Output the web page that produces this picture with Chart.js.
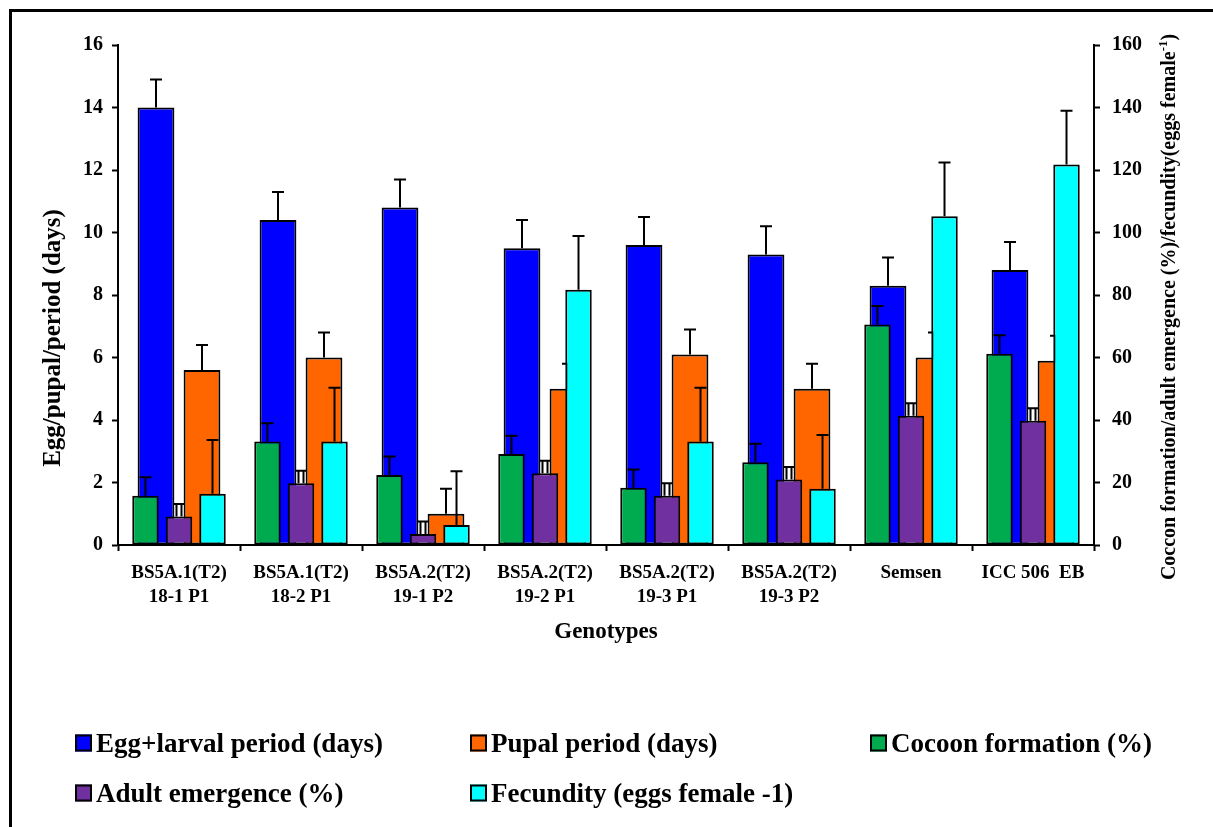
<!DOCTYPE html>
<html>
<head>
<meta charset="utf-8">
<script src="https://cdn.jsdelivr.net/npm/chart.js@4.4.1/dist/chart.umd.min.js"></script>
<style>
  html, body { margin: 0; padding: 0; background: #fff; }
  #wrap { position: relative; width: 1213px; height: 827px; overflow: hidden; background: #fff; }
  #frame { position: absolute; left: 9px; top: 9px; width: 1300px; height: 900px;
           border-left: 3px solid #000; border-top: 3px solid #000; }
  canvas { position: absolute; left: 0; top: 0; }
  #legend { position: absolute; left: 0; top: 0; width: 1213px; height: 827px;
            font-family: 'Liberation Serif', 'Times New Roman', serif; font-weight: bold; font-size: 27px; color: #000; }
  .lg-item { position: absolute; display: flex; align-items: center; white-space: nowrap; transform: translateY(-50%); }
  .lg-box { width: 13px; height: 13px; border: 2px solid #000; margin-right: 4px; }
</style>
</head>
<body>
<div id="wrap">
  <canvas id="chart-days" width="1213" height="680"></canvas>
  <canvas id="chart-pct" width="1213" height="680"></canvas>
  <div id="frame"></div>
  <div id="legend"></div>
</div>
<script>
// ── DATA ──────────────────────────────────────────────────────────────────
const genotypes = [
  ['BS5A.1(T2)', '18-1 P1'],
  ['BS5A.1(T2)', '18-2 P1'],
  ['BS5A.2(T2)', '19-1 P2'],
  ['BS5A.2(T2)', '19-2 P1'],
  ['BS5A.2(T2)', '19-3 P1'],
  ['BS5A.2(T2)', '19-3 P2'],
  'Semsen',
  'ICC 506  EB'
];

// left axis (days)
const eggLarval    = [14.0, 10.4, 10.8, 9.5, 9.6, 9.3, 8.3, 8.8];
const eggLarvalErr = [0.9, 0.9, 0.9, 0.9, 0.9, 0.9, 0.9, 0.9];
const pupal        = [5.6, 6.0, 1.0, 5.0, 6.1, 5.0, 6.0, 5.9];
const pupalErr     = [0.8, 0.8, 0.8, 0.8, 0.8, 0.8, 0.8, 0.8];

// right axis (% / eggs female-1)
const cocoon       = [15.8, 33.1, 22.4, 29.1, 18.3, 26.5, 70.6, 61.2];
const cocoonErr    = [5.9, 5.9, 5.9, 5.9, 5.9, 5.9, 5.9, 5.9];
const adult        = [9.1, 19.8, 3.5, 23.0, 15.8, 21.0, 41.4, 39.8];
const adultErr     = [4.0, 4.0, 4.0, 4.0, 4.0, 4.0, 4.0, 4.0];
const fecundity    = [16.4, 33.1, 6.4, 81.7, 33.1, 18.0, 105.2, 121.8];
const fecundityErr = [17.2, 17.2, 17.2, 17.2, 17.2, 17.2, 17.2, 17.2];

const leftTicks  = [0, 2, 4, 6, 8, 10, 12, 14, 16];
const rightTicks = [0, 20, 40, 60, 80, 100, 120, 140, 160];

const FONT = "'Liberation Serif', 'Times New Roman', serif";

// ── PLUGINS ───────────────────────────────────────────────────────────────
// error bars drawn right after each dataset so later bars cover them
const errorBars = {
  id: 'errorBars',
  afterDatasetDraw(chart, args) {
    const ds = chart.data.datasets[args.index];
    if (!ds.errors) return;
    const meta  = args.meta;
    const scale = chart.scales[meta.yAxisID];
    const ctx   = chart.ctx;
    ctx.save();
    ctx.strokeStyle = '#000';
    ctx.lineWidth = 2;
    meta.data.forEach((bar, i) => {
      const top = scale.getPixelForValue(ds.data[i] + ds.errors[i]);
      ctx.beginPath();
      if (ds.hollowErr) {
        ctx.moveTo(bar.x - 2.5, bar.y); ctx.lineTo(bar.x - 2.5, top);
        ctx.moveTo(bar.x + 2.5, bar.y); ctx.lineTo(bar.x + 2.5, top);
      } else {
        ctx.moveTo(bar.x, bar.y); ctx.lineTo(bar.x, top);
      }
      ctx.moveTo(bar.x - 6, top); ctx.lineTo(bar.x + 6, top);
      ctx.stroke();
    });
    ctx.restore();
  }
};

// left axis title, set a little below the axis middle as in the source
const leftTitle = {
  id: 'leftTitle',
  afterDraw(chart) {
    const s   = chart.scales.y;
    const ctx = chart.ctx;
    ctx.save();
    ctx.fillStyle = '#000';
    ctx.font = `bold 25px ${FONT}`;
    ctx.textAlign = 'center';
    ctx.textBaseline = 'middle';
    ctx.translate(s.left + 54, (s.top + s.bottom) / 2 + 43);
    ctx.rotate(-Math.PI / 2);
    ctx.fillText('Egg/pupal/period (days)', 0, 0);
    ctx.restore();
  }
};

// right axis title reads bottom-to-top, with superscript -1
const rightTitle = {
  id: 'rightTitle',
  afterDraw(chart) {
    const s   = chart.scales.y1;
    const ctx = chart.ctx;
    const main = 'Coccon formation/adult emergence (%)/fecundity(eggs female';
    const sup  = '-1';
    const tail = ')';
    const big = `bold 20px ${FONT}`, small = `bold 13px ${FONT}`;
    ctx.save();
    ctx.fillStyle = '#000';
    ctx.textBaseline = 'middle';
    ctx.textAlign = 'left';
    ctx.font = big;
    const wMain = ctx.measureText(main).width;
    const wTail = ctx.measureText(tail).width;
    ctx.font = small;
    const wSup = ctx.measureText(sup).width;
    const total = wMain + wSup + wTail;
    ctx.translate(s.right - 43, (s.top + s.bottom) / 2 + 12);
    ctx.rotate(-Math.PI / 2);
    let x = -total / 2;
    ctx.font = big;   ctx.fillText(main, x, 0); x += wMain;
    ctx.font = small; ctx.fillText(sup, x, -6); x += wSup;
    ctx.font = big;   ctx.fillText(tail, x, 0);
    ctx.restore();
  }
};

// ── SHARED OPTIONS ────────────────────────────────────────────────────────
const barBase  = { borderColor: '#000', borderWidth: 2, borderSkipped: false };
const axisGrid = { drawOnChartArea: false, drawTicks: true, tickLength: 6, tickWidth: 2,
                   tickColor: '#000', color: '#000' };
const tickFont = { family: FONT, size: 20, weight: 'bold' };
const baseOptions = {
  responsive: false,
  maintainAspectRatio: false,
  animation: false,
  devicePixelRatio: 1,
  plugins: { legend: { display: false }, tooltip: { enabled: false } }
};

// ── CHART 1: days (left axis, wide bars behind) ──────────────────────────
const daysChart = new Chart(document.getElementById('chart-days'), {
  type: 'bar',
  data: {
    labels: genotypes,
    datasets: [
      { ...barBase, label: 'Egg+larval period (days)', data: eggLarval, errors: eggLarvalErr,
        backgroundColor: '#0000FF', categoryPercentage: 0.754, barPercentage: 0.8 },
      { ...barBase, label: 'Pupal period (days)', data: pupal, errors: pupalErr,
        backgroundColor: '#FF6600', categoryPercentage: 0.754, barPercentage: 0.8 }
    ]
  },
  plugins: [errorBars, leftTitle],
  options: {
    ...baseOptions,
    layout: { padding: { top: 45, left: 0, right: 119, bottom: 0 } },
    scales: {
      x: {
        offset: true,
        grid: { ...axisGrid, offset: true },
        border: { color: '#000', width: 2 },
        ticks: { color: '#000', padding: 10, maxRotation: 0, autoSkip: false,
                 font: { family: FONT, size: 19, weight: 'bold', lineHeight: 1.25 } },
        title: { display: true, text: 'Genotypes', color: '#000',
                 font: { family: FONT, size: 23, weight: 'bold' }, padding: { top: 0, bottom: 34 } },
        afterFit: s => { s.height = 135; }
      },
      y: {
        position: 'left', min: 0, max: 16,
        afterBuildTicks: s => { s.ticks = leftTicks.map(v => ({ value: v })); },
        grid: axisGrid,
        border: { color: '#000', width: 2 },
        ticks: { color: '#000', padding: 9, font: tickFont },
        afterFit: s => { s.width = 118; }
      }
    }
  }
});

// ── CHART 2: percent / fecundity (right axis, narrow bars in front) ──────
const pctChart = new Chart(document.getElementById('chart-pct'), {
  type: 'bar',
  data: {
    labels: genotypes,
    datasets: [
      { ...barBase, label: 'Cocoon formation (%)', data: cocoon, errors: cocoonErr,
        backgroundColor: '#00AA4F', yAxisID: 'y1', categoryPercentage: 0.824, barPercentage: 0.79 },
      { ...barBase, label: 'Adult emergence (%)', data: adult, errors: adultErr, hollowErr: true,
        backgroundColor: '#7030A0', yAxisID: 'y1', categoryPercentage: 0.824, barPercentage: 0.79 },
      { ...barBase, label: 'Fecundity (eggs female -1)', data: fecundity, errors: fecundityErr,
        backgroundColor: '#00FFFF', yAxisID: 'y1', categoryPercentage: 0.824, barPercentage: 0.79 }
    ]
  },
  plugins: [errorBars, rightTitle],
  options: {
    ...baseOptions,
    layout: { padding: { top: 45, left: 118, right: 0, bottom: 135 } },
    scales: {
      x: { display: false, offset: true, grid: { offset: true } },
      y1: {
        position: 'right', min: 0, max: 160,
        afterBuildTicks: s => { s.ticks = rightTicks.map(v => ({ value: v })); },
        grid: axisGrid,
        border: { color: '#000', width: 2 },
        ticks: { color: '#000', padding: 12, font: tickFont },
        afterFit: s => { s.width = 119; }
      }
    }
  }
});

// ── HTML LEGEND (3 columns) ───────────────────────────────────────────────
const legendCols = [75, 470, 870];
const legendRows = [743, 793];
const legendOrder = [
  daysChart.data.datasets[0], daysChart.data.datasets[1], pctChart.data.datasets[0],
  pctChart.data.datasets[1], pctChart.data.datasets[2]
];
const legend = document.getElementById('legend');
legendOrder.forEach((ds, i) => {
  const item = document.createElement('div');
  item.className = 'lg-item';
  item.style.left = legendCols[i % 3] + 'px';
  item.style.top  = legendRows[Math.floor(i / 3)] + 'px';
  item.innerHTML = `<span class="lg-box" style="background:${ds.backgroundColor}"></span>${ds.label}`;
  legend.appendChild(item);
});
</script>
</body>
</html>
